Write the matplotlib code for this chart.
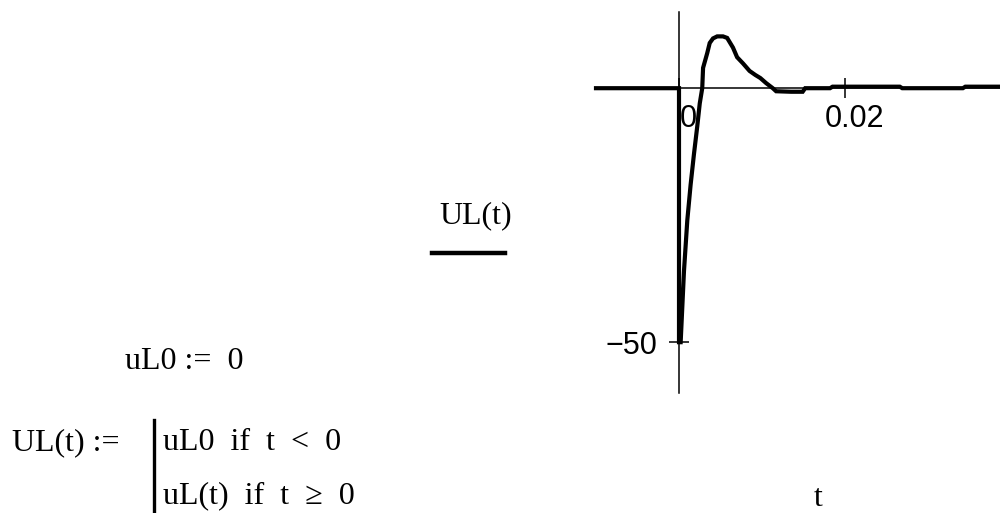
import numpy as np
import matplotlib
matplotlib.use("Agg")
import matplotlib.pyplot as plt
from matplotlib.transforms import ScaledTranslation

# curve (t in s, UL in V)
t_vals = [-0.01, 0.0, 0.0, 0.0002, 0.0006, 0.001, 0.0014, 0.0018, 0.0022, 0.0025,
          0.0028, 0.0029, 0.0034, 0.0037, 0.0041, 0.0046, 0.0053, 0.0058, 0.0065,
          0.0070, 0.0077, 0.0085, 0.0092, 0.0098, 0.0105, 0.0113, 0.0117, 0.0135,
          0.0149, 0.0152, 0.0182, 0.0185, 0.0266, 0.0269, 0.0342, 0.0345, 0.04]
ul_vals = [0, 0, -50, -50, -36, -26, -19, -13, -7.5, -3,
           0, 4, 6.9, 8.9, 9.8, 10.2, 10.2, 9.9, 8.0,
           6.1, 4.9, 3.4, 2.6, 2.0, 1.0, 0, -0.6, -0.7,
           -0.7, 0, 0, 0.3, 0.3, 0, 0, 0.3, 0.3]

x_ticks = [0, 0.02]
x_tick_labels = ["0", "0.02"]
y_ticks = [-50]
y_tick_labels = ["\u221250"]

W, H = 1000, 513
serif = ["Liberation Serif", "DejaVu Serif"]
sans = ["Liberation Sans", "DejaVu Sans"]


def fx(px):
    return px / W


def fy(py):
    return 1 - py / H


fig = plt.figure(figsize=(10, 5.13), dpi=100)

# axes: t from -0.01 to 0.04 (right part runs off the figure), UL from -60 to 15
left, right = 596, 1011
top, bottom = 12, 393
ax = fig.add_axes([fx(left), fy(bottom), (right - left) / W, (bottom - top) / H])
ax.set_xlim(-0.01, 0.04)
ax.set_ylim(-60, 15)
ax.patch.set_alpha(0)

ax.plot(t_vals, ul_vals, color="black", lw=3.0, solid_joinstyle="miter", clip_on=False)

for s in ["top", "right"]:
    ax.spines[s].set_visible(False)
ax.spines["left"].set_position(("data", 0))
ax.spines["bottom"].set_position(("data", 0))
ax.spines["left"].set_linewidth(1.1)
ax.spines["bottom"].set_linewidth(1.1)

ax.set_xticks(x_ticks)
ax.set_xticklabels(x_tick_labels, family=sans, fontsize=22)
ax.set_yticks(y_ticks)
ax.set_yticklabels(y_tick_labels, family=sans, fontsize=22)
ax.tick_params(direction="inout", length=15, width=1.1, color="black", pad=4)
ax.tick_params(axis="y", pad=8)
for lab in ax.get_xticklabels():
    lab.set_transform(lab.get_transform() + ScaledTranslation(9 / 100, 0, fig.dpi_scale_trans))

# legend-like label on the left of the plot
fig.text(fx(476), fy(216), "UL(t)", family=serif, fontsize=23, ha="center", va="center")
fig.add_artist(plt.Line2D([fx(432), fx(505)], [fy(253), fy(253)], color="black", lw=3.2))

# x axis label
fig.text(fx(818), fy(498), "t", family=serif, fontsize=23, ha="center", va="center")

# worksheet definitions
fs = 23
fig.text(fx(125), fy(369), "uL0 :=  0", family=serif, fontsize=fs, ha="left", va="baseline")
fig.text(fx(12), fy(450), "UL(t) :=", family=serif, fontsize=fs, ha="left", va="baseline")
fig.add_artist(plt.Line2D([fx(153.5), fx(153.5)], [fy(420), fy(513)], color="black", lw=2.4))
fig.text(fx(163), fy(450), "uL0  if  t  <  0", family=serif, fontsize=fs, ha="left", va="baseline")
fig.text(fx(163), fy(503), "uL(t)  if  t  \u2265  0", family=serif, fontsize=fs, ha="left", va="baseline")

fig.savefig("out.png", dpi=100)
